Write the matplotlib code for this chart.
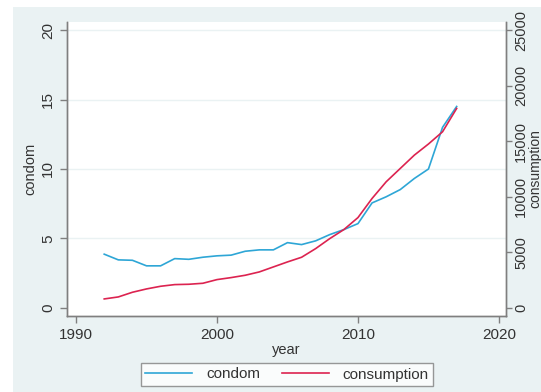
import matplotlib
matplotlib.use("Agg")
import matplotlib.pyplot as plt
from matplotlib.patches import Rectangle

plt.rcParams['font.family'] = ['Liberation Sans', 'DejaVu Sans']

#   data
years = list(range(1992, 2018))
condom = [3.87, 3.46, 3.43, 3.03, 3.03, 3.55, 3.50, 3.65, 3.75, 3.80,
          4.08, 4.18, 4.18, 4.70, 4.56, 4.83, 5.28, 5.64, 6.07, 7.56,
          8.00, 8.52, 9.32, 10.0, 13.0, 14.5]
consumption = [810, 990, 1410, 1710, 1950, 2100, 2130, 2220, 2550, 2730,
               2940, 3240, 3690, 4140, 4560, 5340, 6240, 7050, 8130, 9850,
               11350, 12550, 13750, 14750, 15850, 17950]
xticks = [1990, 2000, 2010, 2020]
condomTicks = [0, 5, 10, 15, 20]
consTicks = [0, 5000, 10000, 15000, 20000, 25000]

bgColor = '#EAF2F3'
axisColor = '#7f7f7f'
textColor = '#333333'
blue = '#2EA6D6'
red = '#DC2350'

W, H = 541, 392
fig = plt.figure(figsize=(W / 100, H / 100), dpi=100, facecolor='white')
#   Stata style graph region
fig.patches.append(Rectangle((13 / W, 0), 1, (H - 7) / H, transform=fig.transFigure,
                             facecolor=bgColor, edgecolor='none', zorder=-10))

left, right, top, bottom = 67, 506, 22, 316
ax = fig.add_axes([left / W, (H - bottom) / H, (right - left) / W, (bottom - top) / H])
ax.set_facecolor('white')
ax2 = ax.twinx()

l1, = ax.plot(years, condom, color=blue, lw=1.2, label='condom')
l2, = ax2.plot(years, consumption, color=red, lw=1.2, label='consumption')

ax.set_xlim(1989.36, 2020.5)
ax.set_ylim(-0.58, 20.58)
ax2.set_ylim(-0.58 * 1250, 20.58 * 1250)
ax.set_xticks(xticks)
ax.set_yticks(condomTicks)
ax2.set_yticks(consTicks)

#   grid lines
for v in [5, 10, 15, 20]:
    ax.axhline(v, color=bgColor, lw=1.0, zorder=0)

for a in (ax, ax2):
    a.spines['top'].set_visible(False)
    for s in ('left', 'right', 'bottom'):
        a.spines[s].set_color(axisColor)
        a.spines[s].set_linewidth(1.0)
    a.tick_params(colors=axisColor, labelcolor=textColor, labelsize=11,
                  length=5, width=1.0)
ax.tick_params(axis='y', labelrotation=90)
ax2.tick_params(axis='y', labelrotation=90, labelsize=10.5, length=4, pad=2)
for lab in ax.get_yticklabels() + ax2.get_yticklabels():
    lab.set_va('center')

ax.set_xlabel('year', fontsize=10.5, color=textColor, labelpad=1)
ax.set_ylabel('condom', fontsize=10.5, color=textColor, labelpad=3)
ax2.set_ylabel('consumption', fontsize=10, color=textColor, rotation=90, va='center')
ax2.yaxis.set_label_coords((535.5 - left) / (right - left), 0.5)

leg = fig.legend(handles=[l1, l2], loc='center', ncol=2,
                 bbox_to_anchor=(287 / W, 1 - 374.5 / H), fontsize=11,
                 frameon=True, fancybox=False, edgecolor=axisColor,
                 handlelength=3.1, columnspacing=1.4, handletextpad=0.9,
                 borderpad=0.3)
leg.get_frame().set_linewidth(1.0)
for t in leg.get_texts():
    t.set_color(textColor)

fig.savefig('out.png', dpi=100, facecolor=fig.get_facecolor())
